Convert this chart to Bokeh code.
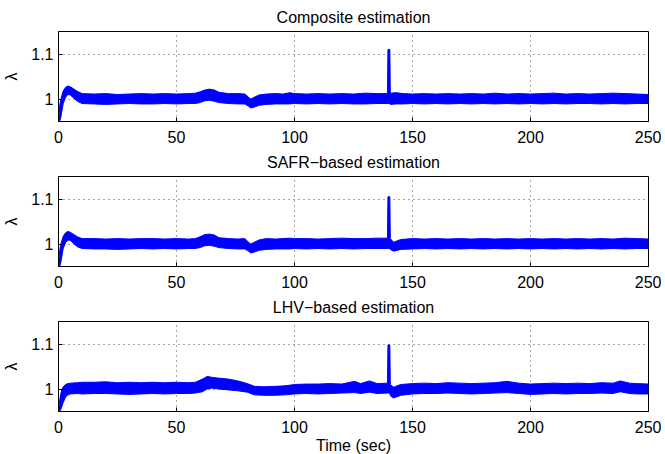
from bokeh.plotting import figure
from bokeh.models import Range1d, FixedTicker, ColumnDataSource, CustomJSTickFormatter
from bokeh.layouts import column
from bokeh.embed import file_html
from bokeh.resources import INLINE

# ---------------- data ----------------
titles = ["Composite estimation", "SAFR\u2212based estimation", "LHV\u2212based estimation"]
x_ticks = [0, 50, 100, 150, 200, 250]
y_ticks = [1, 1.1]

# Composite estimation: band envelope (upper / lower) of the noisy lambda signal
t1 = [0, 0.5, 1, 2, 3, 4, 5, 6, 8, 10,
      15, 20, 25, 30, 35, 40, 45, 50, 55,
      58, 60, 62, 64, 66, 68, 72, 76, 79,
      80.5, 81.5, 83, 85, 88, 92, 95, 98,
      100, 105, 110, 115, 120, 125, 130, 135,
      139.4, 139.6, 140.4, 140.6,
      143, 146,
      150, 155, 160, 165, 170, 175, 180, 185, 190, 195, 200,
      205, 210, 215, 220, 225, 230, 235, 240, 245, 250]
up1 = [0.950, 0.985, 1.000, 1.018, 1.026, 1.029, 1.027, 1.024, 1.017, 1.012,
       1.011, 1.012, 1.010, 1.011, 1.012, 1.011, 1.012, 1.011, 1.012,
       1.013, 1.016, 1.020, 1.022, 1.020, 1.015, 1.012, 1.012, 1.011,
       1.004, 1.000, 1.004, 1.009, 1.011, 1.012, 1.011, 1.014,
       1.012, 1.011, 1.012, 1.011, 1.012, 1.011, 1.013, 1.012,
       1.012, 1.110, 1.110, 1.013,
       1.014, 1.012,
       1.011, 1.012, 1.011, 1.012, 1.011, 1.012, 1.011, 1.013, 1.011, 1.012, 1.011,
       1.012, 1.013, 1.011, 1.012, 1.011, 1.012, 1.013, 1.012, 1.011, 1.010]
lo1 = [0.950, 0.950, 0.960, 0.990, 1.004, 1.010, 1.009, 1.004, 0.995, 0.990,
       0.989, 0.988, 0.989, 0.990, 0.989, 0.989, 0.990, 0.989, 0.990,
       0.990, 0.992, 0.996, 0.997, 0.995, 0.992, 0.990, 0.989, 0.989,
       0.984, 0.980, 0.982, 0.986, 0.988, 0.989, 0.989, 0.989,
       0.990, 0.989, 0.990, 0.989, 0.990, 0.989, 0.989, 0.990,
       0.990, 0.990, 0.990, 0.988,
       0.989, 0.989,
       0.990, 0.989, 0.990, 0.989, 0.990, 0.989, 0.990, 0.989, 0.990, 0.989, 0.990,
       0.989, 0.990, 0.989, 0.990, 0.990, 0.989, 0.990, 0.989, 0.990, 0.990]

# SAFR-based estimation
t2 = [0, 0.5, 1, 2, 3, 4, 5, 6, 8, 10,
      15, 20, 25, 30, 35, 40, 45, 50, 55,
      58, 60, 62, 64, 66, 68, 72, 76, 79,
      80.5, 81.5, 83, 85, 88, 92, 95, 98,
      100, 105, 110, 115, 120, 125, 130, 135,
      139.4, 139.6, 140.4, 140.6,
      142, 145,
      150, 155, 160, 165, 170, 175, 180, 185, 190, 195, 200,
      205, 210, 215, 220, 225, 230, 235, 240, 245, 250]
up2 = [0.950, 0.985, 1.000, 1.017, 1.025, 1.028, 1.026, 1.023, 1.016, 1.012,
       1.012, 1.011, 1.012, 1.011, 1.012, 1.012, 1.011, 1.012, 1.011,
       1.012, 1.016, 1.021, 1.022, 1.020, 1.014, 1.012, 1.011, 1.012,
       1.004, 1.000, 1.004, 1.009, 1.012, 1.011, 1.012, 1.013,
       1.012, 1.012, 1.011, 1.012, 1.013, 1.012, 1.012, 1.013,
       1.013, 1.105, 1.105, 1.012,
       1.004, 1.010,
       1.012, 1.011, 1.012, 1.011, 1.012, 1.011, 1.012, 1.011, 1.012, 1.011, 1.012,
       1.011, 1.012, 1.011, 1.012, 1.011, 1.012, 1.011, 1.013, 1.012, 1.011]
lo2 = [0.950, 0.950, 0.960, 0.990, 1.003, 1.009, 1.008, 1.003, 0.994, 0.990,
       0.989, 0.989, 0.988, 0.989, 0.990, 0.989, 0.990, 0.989, 0.990,
       0.990, 0.992, 0.996, 0.997, 0.995, 0.992, 0.990, 0.989, 0.989,
       0.984, 0.980, 0.982, 0.986, 0.988, 0.989, 0.989, 0.989,
       0.990, 0.989, 0.990, 0.989, 0.990, 0.989, 0.990, 0.990,
       0.990, 0.990, 0.990, 0.988,
       0.984, 0.988,
       0.989, 0.990, 0.989, 0.990, 0.989, 0.990, 0.989, 0.990, 0.989, 0.990, 0.989,
       0.990, 0.989, 0.990, 0.989, 0.990, 0.989, 0.990, 0.989, 0.990, 0.990]

# LHV-based estimation
t3 = [0, 0.5, 1, 1.5, 2, 3, 4, 5, 8, 10,
      15, 20, 25, 30, 35, 40, 45, 50, 55,
      58, 61, 63, 65, 68, 72, 76, 80, 83, 87, 92, 96,
      100, 105, 110, 115, 120,
      125.5, 128, 131.8, 135,
      139.4, 139.6, 140.4, 140.6,
      142, 145,
      150, 155, 160, 165, 170, 175, 180, 185, 190, 195, 200, 205, 210, 215, 220, 225, 230, 235,
      238, 242, 245, 250]
up3 = [0.950, 0.975, 0.990, 1.000, 1.005, 1.010, 1.012, 1.013, 1.014, 1.015,
       1.015, 1.016, 1.014, 1.015, 1.014, 1.015, 1.014, 1.015, 1.014,
       1.015, 1.022, 1.028, 1.026, 1.024, 1.022, 1.018, 1.012, 1.006, 1.005, 1.006, 1.007,
       1.010, 1.011, 1.011, 1.012, 1.011,
       1.017, 1.012, 1.018, 1.012,
       1.013, 1.098, 1.098, 1.010,
       1.004, 1.010,
       1.012, 1.013, 1.012, 1.014, 1.013, 1.012, 1.013, 1.014, 1.017, 1.013, 1.011, 1.012, 1.013, 1.012, 1.013, 1.012, 1.014, 1.013,
       1.018, 1.013, 1.012, 1.011]
lo3 = [0.950, 0.950, 0.955, 0.962, 0.970, 0.982, 0.987, 0.989, 0.990, 0.989,
       0.990, 0.990, 0.989, 0.988, 0.989, 0.990, 0.989, 0.990, 0.990,
       0.991, 0.994, 1.000, 1.002, 1.000, 0.998, 0.996, 0.993, 0.987, 0.986, 0.986, 0.987,
       0.989, 0.990, 0.989, 0.990, 0.991,
       0.992, 0.990, 0.993, 0.990,
       0.991, 0.991, 0.991, 0.985,
       0.980, 0.986,
       0.989, 0.990, 0.990, 0.991, 0.990, 0.989, 0.990, 0.991, 0.992, 0.990, 0.988, 0.989, 0.990, 0.989, 0.990, 0.990, 0.991, 0.990,
       0.994, 0.990, 0.989, 0.989]

series = [(t1, up1, lo1), (t2, up2, lo2), (t3, up3, lo3)]

# ---------------- styling ----------------
FONT = "Liberation Sans"
BLUE = "#0000ff"

figs = []
for i, (title, (t, up, lo)) in enumerate(zip(titles, series)):
    last = (i == 2)
    p = figure(frame_width=590, frame_height=90,
               x_range=Range1d(0, 250), y_range=Range1d(0.95, 1.15),
               output_backend="svg", toolbar_location=None,
               min_border_left=52, min_border_right=13,
               min_border_top=0, min_border_bottom=0,
               title=title)
    p.title.align = "center"
    p.title.text_font = FONT
    p.title.text_font_size = "16px"
    p.title.text_font_style = "normal"
    p.title.text_color = "black"
    p.title.standoff = 12

    src = ColumnDataSource(dict(t=t, up=up, lo=lo))
    p.varea(x="t", y1="lo", y2="up", source=src, fill_color=BLUE)
    p.line(x="t", y="up", source=src, line_color=BLUE, line_width=1)
    p.line(x="t", y="lo", source=src, line_color=BLUE, line_width=1)

    p.xaxis.ticker = FixedTicker(ticks=x_ticks)
    p.yaxis.ticker = FixedTicker(ticks=y_ticks)
    p.yaxis.formatter = CustomJSTickFormatter(code="return String(Math.round(tick*10)/10);")
    p.yaxis.axis_label = "\u03bb"
    p.xaxis.axis_label = "Time (sec)" if last else None
    for ax in (p.xaxis, p.yaxis):
        ax.major_tick_in = 4
        ax.major_tick_out = 0
        ax.minor_tick_line_color = None
        ax.axis_line_color = "black"
        ax.major_tick_line_color = "black"
        ax.major_label_text_font = FONT
        ax.major_label_text_font_size = "16px"
        ax.major_label_text_color = "black"
        ax.axis_label_text_font = FONT
        ax.axis_label_text_font_size = "16px"
        ax.axis_label_text_font_style = "normal"
        ax.axis_label_text_color = "black"
    p.xaxis.major_label_standoff = 9
    p.yaxis.major_label_standoff = 5
    p.yaxis.axis_label_standoff = 8
    p.xaxis.axis_label_standoff = 1

    for g in (p.xgrid, p.ygrid):
        g.grid_line_color = "black"
        g.grid_line_alpha = 0.7
        g.grid_line_dash = "1 4"
    p.xgrid.ticker = FixedTicker(ticks=x_ticks)
    p.ygrid.ticker = FixedTicker(ticks=y_ticks)

    p.outline_line_color = "black"
    p.outline_line_width = 1
    p.outline_line_alpha = 1
    p.background_fill_color = "white"
    p.border_fill_color = "white"
    figs.append(p)

layout = column(*figs, spacing=0)
open("out.html", "w").write(file_html(layout, INLINE))
